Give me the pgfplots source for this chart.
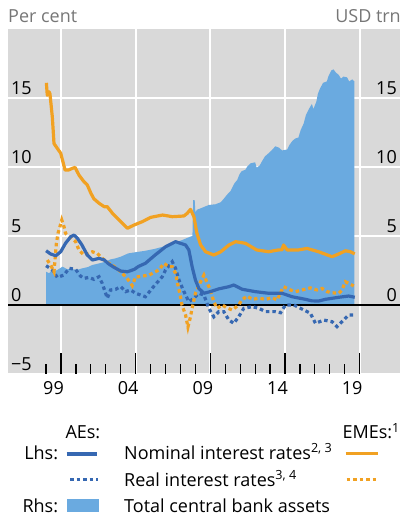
\documentclass[border=0pt]{standalone}
\usepackage{fontspec}
\setmainfont{Open Sans}
\usepackage{pgfplots}
\pgfplotsset{compat=1.18}
\definecolor{bggray}{RGB}{217,217,217}
\definecolor{aeblue}{RGB}{54,104,178}
\definecolor{emeorange}{RGB}{241,161,34}
\definecolor{areablue}{RGB}{106,170,224}
\definecolor{labgray}{RGB}{118,118,118}
\newcommand{\fs}{\fontsize{18bp}{21bp}\selectfont}
\begin{document}
\begin{tikzpicture}[font=\fs]
\path[use as bounding box] (-8bp,-144bp) rectangle (392bp,374bp);
\begin{axis}[
  scale only axis, width=392bp, height=345bp,
  xmin=1996.45, xmax=2022.7, ymin=-5, ymax=20,
  axis background/.style={fill=bggray},
  axis line style={draw=none},
  xtick={2000,2005,2010,2015,2020},
  xticklabels={99,04,09,14,19},
  minor xtick={1999,...,2019},
  xtick pos=bottom, tick align=inside,
  major tick length=21bp, minor tick length=10bp,
  xtick style={black, line width=1.2bp},
  ytick style={draw=none},
  ytick={-5,0,5,10,15},
  yticklabels={−5,0,5,10,15},
  grid=major, major grid style={white, line width=2bp},
  yticklabel style={anchor=south west, inner sep=3bp},
  xticklabel style={xshift=-7.5bp, yshift=-4bp},
  clip=false,
]
\addplot[fill=areablue, draw=none] coordinates {
(1999.0,0) (1999.0,2.41) (1999.2,2.3) (1999.4,2.54) (1999.7,2.5) (2000.1,2.78) (2000.4,2.6) (2000.75,2.6) (2001.1,2.55) (2001.4,2.65) (2001.8,2.75) (2002.1,2.9) (2002.5,3.0) (2003.0,3.14) (2003.3,3.3) (2003.65,3.38) (2004.0,3.5) (2004.5,3.74) (2005.2,3.86) (2005.65,3.93) (2006.2,4.05) (2006.75,4.2) (2007.45,4.46) (2008.1,4.7) (2008.65,4.95) (2008.8,5.0) (2008.85,7.6) (2008.95,7.6) (2009.0,6.7) (2009.1,6.9) (2009.45,7.05) (2009.9,7.25) (2010.35,7.3) (2010.7,7.45) (2010.9,7.7) (2011.1,7.97) (2011.35,8.26) (2011.6,8.8) (2011.8,9.06) (2011.95,9.47) (2012.1,9.7) (2012.35,9.8) (2012.45,10.0) (2012.7,10.27) (2013.0,10.34) (2013.1,9.95) (2013.3,10.1) (2013.45,10.4) (2013.65,10.76) (2013.9,11.0) (2014.1,11.2) (2014.35,11.5) (2014.6,11.4) (2014.8,11.2) (2015.15,11.27) (2015.3,11.6) (2015.5,11.9) (2015.7,12.07) (2015.9,12.14) (2016.05,12.68) (2016.25,13.15) (2016.4,13.77) (2016.6,14.2) (2016.8,14.57) (2016.9,14.2) (2017.1,14.74) (2017.2,15.3) (2017.35,15.7) (2017.55,16.1) (2017.8,16.2) (2017.9,16.55) (2018.1,17.0) (2018.25,17.07) (2018.4,16.85) (2018.6,16.67) (2018.75,16.4) (2018.9,16.55) (2019.15,16.5) (2019.3,16.2) (2019.5,16.35) (2019.65,16.2) (2019.65,0)
} -- cycle;
\addplot[black, line width=1.5bp] coordinates {(1996.45,0) (2022.7,0)};
\addplot[aeblue, line width=3.2bp, line cap=butt, dash pattern=on 3.5bp off 3bp] coordinates {
(1999.0,2.85) (1999.42,2.54) (1999.75,2.0) (2000.2,2.17) (2000.54,2.66) (2000.98,2.58) (2001.3,2.1) (2001.54,1.93) (2001.87,2.0) (2002.2,1.86) (2002.54,2.05) (2002.76,1.57) (2003.1,0.49) (2003.32,1.09) (2003.66,1.14) (2004.0,1.33) (2004.33,0.97) (2004.66,1.09) (2005.0,0.85) (2005.65,0.6) (2006.2,1.33) (2006.78,2.05) (2007.0,2.54) (2007.45,3.14) (2007.67,2.66) (2007.9,1.81) (2008.23,0.97) (2008.56,0.24) (2008.9,0.49) (2009.23,0.85) (2009.57,0.72) (2009.9,-0.24) (2010.23,-0.85) (2010.57,-0.48) (2010.9,-0.48) (2011.24,-1.09) (2011.57,-1.33) (2011.9,-0.85) (2012.24,-0.24) (2012.8,-0.12) (2013.25,-0.24) (2013.7,-0.48) (2014.36,-0.48) (2014.7,-0.56) (2015.03,0) (2015.59,0) (2016.04,-0.24) (2016.7,-0.6) (2017.04,-1.33) (2017.59,-1.09) (2018.15,-1.21) (2018.48,-1.57) (2018.93,-1.09) (2019.26,-0.72) (2019.6,-0.72)
};
\addplot[emeorange, line width=3.2bp, line cap=butt, dash pattern=on 3.5bp off 3bp] coordinates {
(1999.08,3.26) (1999.3,2.9) (1999.53,2.41) (1999.69,4.47) (1999.8,5.2) (1999.9,5.56) (2000.05,6.16) (2000.2,5.67) (2000.3,5.2) (2000.98,4.59) (2001.2,3.99) (2001.54,3.62) (2002.1,3.86) (2002.43,3.74) (2003.0,3.14) (2003.43,2.9) (2004.0,2.41) (2004.45,1.9) (2004.77,1.4) (2005.0,2.05) (2005.2,2.05) (2005.9,2.17) (2006.55,2.54) (2006.9,3.02) (2007.2,2.78) (2007.45,2.78) (2007.67,2.29) (2007.9,1.09) (2008.0,0.6) (2008.1,0) (2008.34,-0.72) (2008.5,-1.6) (2008.67,-0.85) (2008.78,-0.24) (2009.0,0.85) (2009.35,1.69) (2009.57,2.17) (2009.8,1.57) (2010.0,1.09) (2010.23,0.24) (2010.45,-0.24) (2010.8,0) (2011.1,-0.2) (2011.46,-0.36) (2011.9,0) (2012.1,0.36) (2012.46,0.65) (2012.8,0.41) (2013.25,0.49) (2013.7,0.41) (2014.14,0.53) (2014.47,0.36) (2014.9,1.33) (2015.36,1.09) (2015.7,0.97) (2016.14,1.09) (2016.7,1.24) (2017.14,1.09) (2017.48,1.2) (2017.81,0.97) (2018.15,0.89) (2018.6,0.85) (2018.82,1.09) (2019.04,1.69) (2019.26,1.57) (2019.6,1.38)
};
\addplot[aeblue, line width=3.2bp, line join=round] coordinates {
(1999.0,3.93) (1999.3,3.7) (1999.65,3.57) (1999.98,3.86) (2000.3,4.47) (2000.65,4.95) (2000.87,5.07) (2001.1,4.83) (2001.4,4.35) (2001.76,3.62) (2002.1,3.26) (2002.55,3.38) (2002.9,3.26) (2003.2,2.97) (2003.55,2.73) (2004.0,2.46) (2004.45,2.41) (2004.9,2.58) (2005.2,2.8) (2005.65,3.02) (2006.3,3.62) (2007.0,4.22) (2007.67,4.59) (2008.0,4.47) (2008.34,4.35) (2008.56,3.99) (2008.78,2.78) (2009.0,1.81) (2009.23,1.2) (2009.57,0.85) (2010.0,0.97) (2010.57,1.17) (2011.25,1.33) (2011.57,1.45) (2012.13,1.14) (2013.0,0.97) (2013.9,0.85) (2014.8,0.85) (2015.47,0.6) (2016.37,0.41) (2016.8,0.3) (2017.26,0.29) (2017.7,0.41) (2018.6,0.56) (2019.26,0.65) (2019.67,0.56)
};
\addplot[emeorange, line width=3.2bp, line join=round] coordinates {
(1999.02,16.1) (1999.08,15.2) (1999.2,15.45) (1999.26,15.3) (1999.42,13.6) (1999.53,11.7) (1999.75,11.35) (1999.98,11.0) (2000.1,10.5) (2000.27,9.78) (2000.5,9.78) (2000.75,9.9) (2000.94,9.97) (2001.2,9.42) (2001.54,8.93) (2001.76,8.7) (2002.0,8.1) (2002.2,7.7) (2002.55,7.37) (2002.9,7.12) (2003.1,7.12) (2003.45,6.64) (2004.0,6.04) (2004.45,5.56) (2004.9,5.8) (2005.45,6.04) (2006.0,6.35) (2006.8,6.52) (2007.45,6.4) (2008.23,6.45) (2008.45,6.64) (2008.67,6.93) (2008.9,6.4) (2009.1,5.2) (2009.35,4.35) (2009.68,3.86) (2010.23,3.62) (2010.7,3.86) (2011.25,4.35) (2011.7,4.59) (2012.35,4.47) (2013.1,3.99) (2013.9,3.86) (2014.55,3.99) (2014.8,4.0) (2014.9,4.35) (2015.14,3.99) (2015.9,3.99) (2016.47,4.1) (2017.25,3.86) (2018.15,3.5) (2018.6,3.7) (2019.05,3.93) (2019.38,3.86) (2019.67,3.7)
};
\node[anchor=base west, inner sep=0pt, text=labgray] at (rel axis cs:0,1) [yshift=6bp] {Per cent};
\node[anchor=base east, inner sep=0pt, text=labgray] at (rel axis cs:1,1) [yshift=6bp, xshift=1bp] {USD trn};
\end{axis}
\begin{axis}[
  scale only axis, width=392bp, height=345bp,
  xmin=1996.45, xmax=2022.7, ymin=-5, ymax=20,
  hide x axis, axis line style={draw=none},
  ytick={0,5,10,15}, yticklabels={0,5,10,15},
  ytick style={draw=none}, yticklabel pos=right,
  yticklabel style={anchor=south east, inner sep=3bp},
]
\end{axis}
% legend
\node[anchor=base west, inner sep=0pt] at (57.3bp,-64.3bp) {AEs:};
\node[anchor=base west, inner sep=0pt] at (334.3bp,-64.3bp) {EMEs:\textsuperscript{1}};
\node[anchor=base east, inner sep=0pt] at (50.3bp,-85bp) {Lhs:};
\node[anchor=base east, inner sep=0pt] at (50.3bp,-138.3bp) {Rhs:};
\draw[aeblue, line width=3.2bp] (58.7bp,-80bp) -- (89.3bp,-80bp);
\draw[emeorange, line width=3.2bp] (337.7bp,-79.5bp) -- (369.7bp,-79.5bp);
\draw[aeblue, line width=3.2bp, dash pattern=on 3.5bp off 3bp] (62bp,-105.3bp) -- (89.5bp,-105.3bp);
\draw[emeorange, line width=3.2bp, dash pattern=on 3.5bp off 3bp] (338.7bp,-105.3bp) -- (370.5bp,-105.3bp);
\fill[areablue] (58.7bp,-125.3bp) rectangle (91bp,-138.3bp);
\node[anchor=base west, inner sep=0pt] at (116bp,-85bp) {Nominal interest rates\textsuperscript{2, 3}};
\node[anchor=base west, inner sep=0pt] at (116bp,-112bp) {Real interest rates\textsuperscript{3, 4}};
\node[anchor=base west, inner sep=0pt] at (116bp,-138.3bp) {Total central bank assets};
\end{tikzpicture}
\end{document}
